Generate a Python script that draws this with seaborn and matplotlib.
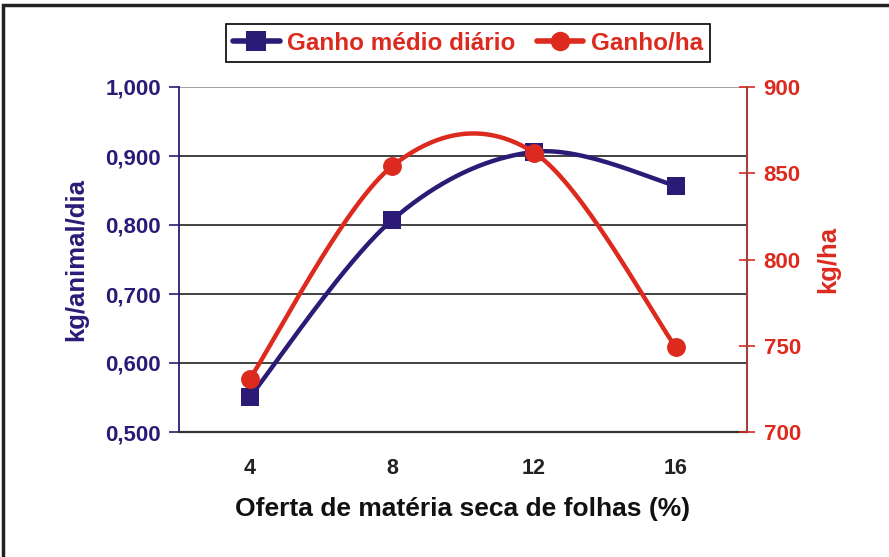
import numpy as np
import pandas as pd
import matplotlib
matplotlib.use("Agg")
import matplotlib.pyplot as plt
import seaborn as sns
from matplotlib.lines import Line2D
from matplotlib.patches import Rectangle

# ---- data ----
oferta = [4, 8, 12, 16]
ganho_medio_diario = [0.551, 0.807, 0.906, 0.857]
ganho_ha = [731, 854, 862, 749]
left_ticks = [0.5, 0.6, 0.7, 0.8, 0.9, 1.0]
left_ticklabels = ["0,500", "0,600", "0,700", "0,800", "0,900", "1,000"]
right_ticks = [700, 750, 800, 850, 900]

BLUE = "#2B1B76"
RED = "#DC2A1F"

sns.set_style("white")
plt.rcParams["font.family"] = ["Liberation Sans", "DejaVu Sans"]
plt.rcParams["font.weight"] = "bold"


def smooth(xs, ys, n=60):
    """Catmull-Rom style smoothing (like spreadsheet 'smoothed line')."""
    xs = np.asarray(xs, float)
    ys = np.asarray(ys, float)
    px = np.concatenate([[xs[0]], xs, [xs[-1]]])
    py = np.concatenate([[ys[0]], ys, [ys[-1]]])
    ox, oy = [], []
    for i in range(1, len(px) - 2):
        p0, p1, p2, p3 = (np.array([px[j], py[j]]) for j in (i - 1, i, i + 1, i + 2))
        c1 = p1 + (p2 - p0) / 6.0
        c2 = p2 - (p3 - p1) / 6.0
        t = np.linspace(0, 1, n)[:, None]
        pts = ((1 - t) ** 3) * p1 + 3 * ((1 - t) ** 2) * t * c1 + 3 * (1 - t) * t ** 2 * c2 + t ** 3 * p2
        ox.extend(pts[:, 0]); oy.extend(pts[:, 1])
    return np.array(ox), np.array(oy)


fig = plt.figure(figsize=(8.89, 5.57), dpi=100)
ax = fig.add_axes([179 / 889, 1 - 432 / 557, (747 - 179) / 889, (432 - 87) / 557])
ax2 = ax.twinx()

# gridlines
for v in left_ticks[1:]:
    ax.axhline(v, color="#333333" if v != 1.0 else "#999999", lw=1.3, zorder=0)

# blue series
bx, by = smooth(oferta, ganho_medio_diario)
sns.lineplot(x=bx, y=by, ax=ax, color=BLUE, lw=3.2, sort=False, zorder=3)
sns.scatterplot(x=oferta, y=ganho_medio_diario, ax=ax, marker="s", s=185, color=BLUE,
                edgecolor=BLUE, linewidth=0, zorder=4)

# red series
rx, ry = smooth(oferta, ganho_ha)
sns.lineplot(x=rx, y=ry, ax=ax2, color=RED, lw=3.2, sort=False, zorder=3)
sns.scatterplot(x=oferta, y=ganho_ha, ax=ax2, marker="o", s=185, color=RED,
                edgecolor=RED, linewidth=0, zorder=4)

ax.set_xlim(2, 18)
ax.set_ylim(0.5, 1.0)
ax2.set_ylim(700, 900)

# x axis
ax.set_xticks([2, 6, 10, 14, 18])
ax.set_xticklabels([])
ax.set_xticks(oferta, minor=True)
ax.set_xticklabels([str(v) for v in oferta], minor=True, fontsize=15.5, fontweight="bold", color="#222222")
ax.tick_params(axis="x", which="major", direction="out", length=7, width=1.2, color="#333333")
ax.tick_params(axis="x", which="minor", length=0, pad=19)
ax.set_xlabel("Oferta de matéria seca de folhas (%)", fontsize=19, fontweight="bold",
              color="#111111", labelpad=13)

# left y axis
ax.set_yticks(left_ticks)
ax.set_yticklabels(left_ticklabels, fontsize=16, fontweight="bold", color=BLUE)
ax.tick_params(axis="y", direction="out", length=7, width=1.2, color=BLUE, left=True, pad=6)
ax.set_ylabel("kg/animal/dia", fontsize=18.5, fontweight="bold", color=BLUE, labelpad=12)

# right y axis
ax2.set_yticks(right_ticks)
ax2.set_yticklabels([str(v) for v in right_ticks], fontsize=16, fontweight="bold", color=RED)
ax2.tick_params(axis="y", direction="inout", length=12, width=1.2, color=RED, right=True, pad=6)
ax2.set_ylabel("kg/ha", fontsize=18.5, fontweight="bold", color=RED, labelpad=11)

for a in (ax, ax2):
    for s in ("top", "left", "right", "bottom"):
        a.spines[s].set_visible(False)
ax.spines["left"].set_visible(True)
ax.spines["left"].set_color(BLUE)
ax.spines["left"].set_linewidth(1.3)
ax2.spines["right"].set_visible(True)
ax2.spines["right"].set_color("#A04040")
ax2.spines["right"].set_linewidth(1.5)
ax.spines["bottom"].set_visible(True)
ax.spines["bottom"].set_color("#333333")
ax.spines["bottom"].set_linewidth(1.6)
ax.set_zorder(ax2.get_zorder() - 1)
ax2.patch.set_visible(False)

# legend
handles = [
    Line2D([], [], color=BLUE, lw=4, marker="s", markersize=15, markeredgewidth=0),
    Line2D([], [], color=RED, lw=4, marker="o", markersize=14, markeredgewidth=0),
]
leg = fig.legend(handles, ["Ganho médio diário", "Ganho/ha"], loc="center",
                 bbox_to_anchor=(468 / 889, 1 - 43 / 557), ncol=2, frameon=True,
                 fancybox=False, edgecolor="black", framealpha=1,
                 prop={"size": 17.5, "weight": "bold"}, handlelength=1.9,
                 handletextpad=0.3, columnspacing=0.9, borderpad=0.32, borderaxespad=0)
leg.get_frame().set_linewidth(1.2)
for t in leg.get_texts():
    t.set_color(RED)

# outer border
fig.patches.append(Rectangle((3 / 889, -0.02), 1.05, (1 - 5 / 557) + 0.02, transform=fig.transFigure,
                             fill=False, edgecolor="#222222", lw=2.5))

fig.savefig("out.png", dpi=100)
